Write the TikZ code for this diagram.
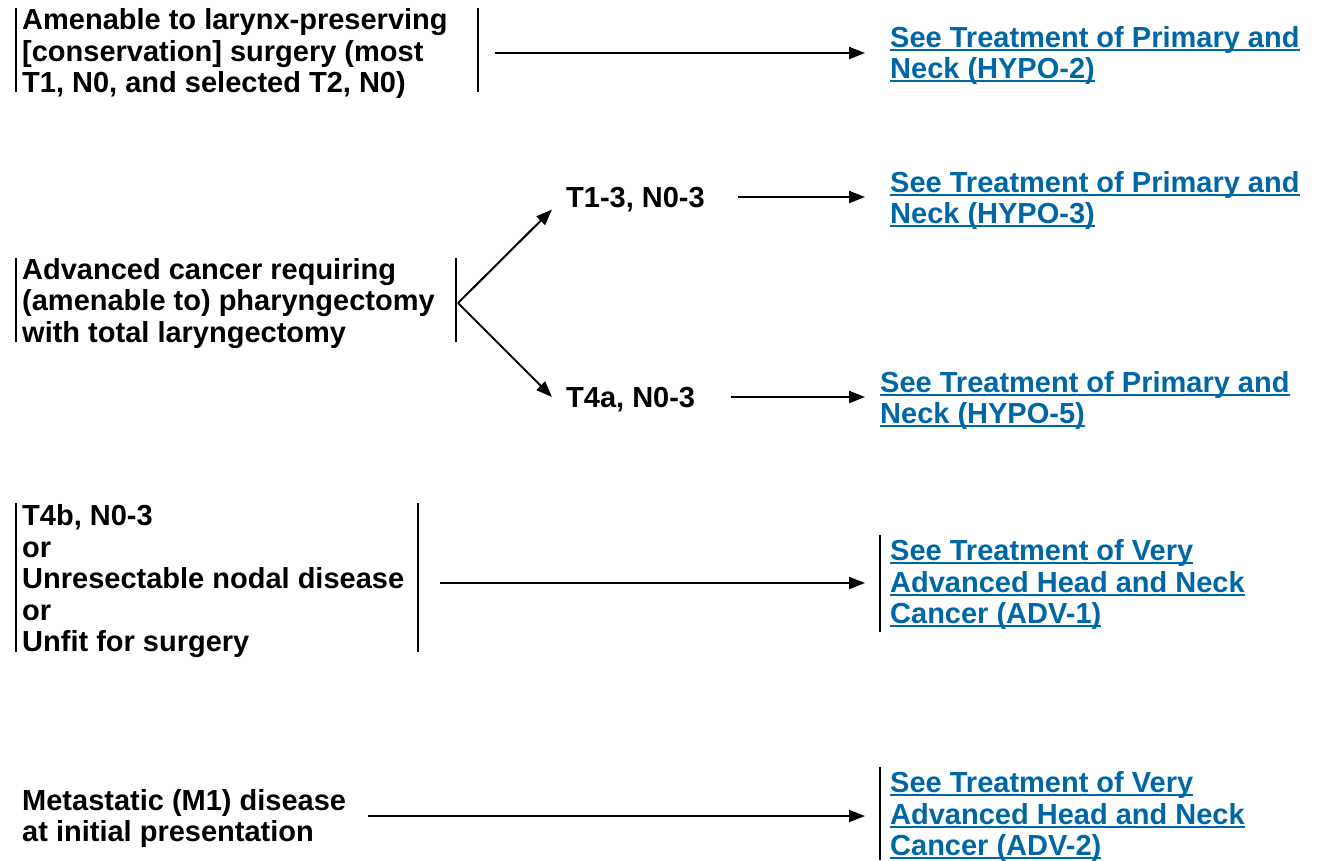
\documentclass[tikz,border=0pt]{standalone}
\usepackage{fontspec}
\setmainfont{Liberation Sans}
\usetikzlibrary{arrows.meta}
\definecolor{linkblue}{RGB}{0,103,166}
\newcommand\lnk[1]{\setbox0\hbox{#1}\rlap{\rule[-3.5pt]{\wd0}{1.8pt}}\box0}
\begin{document}
\begin{tikzpicture}[x=1pt,y=-1pt,
  txt/.style={font=\fontsize{29}{31.5}\selectfont\bfseries, align=left, inner sep=0pt, anchor=west, yshift=-2.5pt},
  link/.style={txt, text=linkblue},
  bar/.style={line width=1.8pt},
  arr/.style={line width=2pt, -{Triangle[length=16pt,width=12pt]}}]
\useasboundingbox (0,0) rectangle (1320,860);

% Row 1
\node[txt] (a) at (22,51) {Amenable to larynx-preserving\\{[}conservation{]} surgery (most\\T1, N0, and selected T2, N0)};
\draw[bar] (16,8) -- (16,92);
\draw[bar] (478,8) -- (478,92);
\coordinate (aout) at (495,53);
\node[link] (l1) at (890,53) {\lnk{See Treatment of Primary and}\\\lnk{Neck (HYPO-2)}};
\draw[arr, shorten >=25pt] (aout) -- (aout -| l1.west);

% Row 2
\node[txt] (b) at (22,301) {Advanced cancer requiring\\(amenable to) pharyngectomy\\with total laryngectomy};
\draw[bar] (16,258) -- (16,342);
\draw[bar] (456,258) -- (456,342);
\coordinate (br) at (458,303);
\node[txt] (t13) at (566,197) {T1-3, N0-3};
\node[txt] (t4a) at (566,397) {T4a, N0-3};
\draw[arr] (br) -- ([shift={(-14,10)}]t13.west);
\draw[arr] (br) -- ([shift={(-14,-2.5)}]t4a.west);
\node[link] (l2) at (890,198) {\lnk{See Treatment of Primary and}\\\lnk{Neck (HYPO-3)}};
\node[link] (l3) at (880,398) {\lnk{See Treatment of Primary and}\\\lnk{Neck (HYPO-5)}};
\draw[arr, shorten >=25pt] ([shift={(33,-2.5)}]t13.east) coordinate (t13out) -- (t13out -| l2.west);
\draw[arr, shorten >=15pt] ([shift={(36,-2.5)}]t4a.east) coordinate (t4aout) -- (t4aout -| l3.west);

% Row 3
\node[txt] (c) at (22,579) {T4b, N0-3\\or\\Unresectable nodal disease\\or\\Unfit for surgery};
\draw[bar] (16,503) -- (16,652);
\draw[bar] (418,503) -- (418,652);
\coordinate (cout) at (440,583);
\node[link] (l4) at (890,582) {\lnk{See Treatment of Very}\\\lnk{Advanced Head and Neck}\\\lnk{Cancer (ADV-1)}};
\draw[bar] (880,535) -- (880,632);
\draw[arr, shorten >=25pt] (cout) -- (cout -| l4.west);

% Row 4
\node[txt] (d) at (22,816) {Metastatic (M1) disease\\at initial presentation};
\node[link] (l5) at (890,814) {\lnk{See Treatment of Very}\\\lnk{Advanced Head and Neck}\\\lnk{Cancer (ADV-2)}};
\draw[bar] (880,767) -- (880,860);
\draw[arr, shorten >=25pt] (d.east |- 0,816) ++(22,0) coordinate (dout) -- (dout -| l5.west);
\end{tikzpicture}
\end{document}
